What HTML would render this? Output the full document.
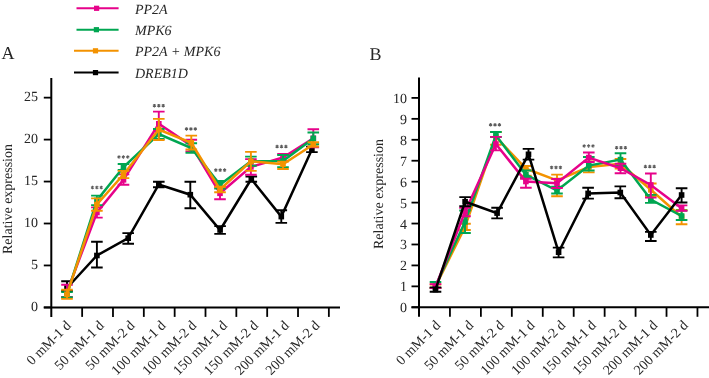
<!DOCTYPE html>
<html><head><meta charset="utf-8"><style>
html,body{margin:0;padding:0;background:#fff;width:709px;height:378px;overflow:hidden}
svg{display:block;will-change:transform}
text{font-family:"Liberation Serif", serif;fill:#262626;text-rendering:geometricPrecision}
</style></head><body>
<svg width="709" height="378" viewBox="0 0 709 378">
<text x="1.5" y="58.5" font-size="18">A</text>
<text x="369.5" y="59.5" font-size="18">B</text>
<text transform="translate(12 199) rotate(-90)" text-anchor="middle" font-size="14">Relative expression</text>
<text transform="translate(382.5 194) rotate(-90)" text-anchor="middle" font-size="14">Relative expression</text>
<path d="M76.5 8.3H118.6" stroke="#E6028A" stroke-width="2"/>
<rect x="94" y="5.7" width="5.2" height="5.2" fill="#E6028A"/>
<text x="135" y="13.6" font-size="14" font-style="italic">PP2A</text>
<path d="M76.5 29.7H118.6" stroke="#00A651" stroke-width="2"/>
<rect x="93.8" y="27.1" width="5.2" height="5.2" fill="#00A651"/>
<text x="135" y="35" font-size="14" font-style="italic">MPK6</text>
<path d="M74 50.8H118.6" stroke="#F39200" stroke-width="2"/>
<rect x="92.9" y="48.2" width="5.2" height="5.2" fill="#F39200"/>
<text x="135" y="56.1" font-size="14" font-style="italic">PP2A + MPK6</text>
<path d="M74 72.6H118.6" stroke="#000000" stroke-width="2"/>
<rect x="92.9" y="70" width="5.2" height="5.2" fill="#000000"/>
<text x="135" y="77.9" font-size="14" font-style="italic">DREB1D</text>
<path d="M51.3 78V316.9M43.8 307.4H340" stroke="#000" stroke-width="2" fill="none"/>
<path d="M43.8 307.4H51.3" stroke="#000" stroke-width="1.8"/>
<text x="38.1" y="310.6" text-anchor="end" font-size="14">0</text>
<path d="M43.8 265.45H51.3" stroke="#000" stroke-width="1.8"/>
<text x="38.1" y="268.65" text-anchor="end" font-size="14">5</text>
<path d="M43.8 223.5H51.3" stroke="#000" stroke-width="1.8"/>
<text x="38.1" y="226.7" text-anchor="end" font-size="14">10</text>
<path d="M43.8 181.55H51.3" stroke="#000" stroke-width="1.8"/>
<text x="38.1" y="184.75" text-anchor="end" font-size="14">15</text>
<path d="M43.8 139.6H51.3" stroke="#000" stroke-width="1.8"/>
<text x="38.1" y="142.8" text-anchor="end" font-size="14">20</text>
<path d="M43.8 97.65H51.3" stroke="#000" stroke-width="1.8"/>
<text x="38.1" y="100.85" text-anchor="end" font-size="14">25</text>
<path d="M82.14 307.4V316.9" stroke="#000" stroke-width="1.8"/>
<path d="M112.98 307.4V316.9" stroke="#000" stroke-width="1.8"/>
<path d="M143.82 307.4V316.9" stroke="#000" stroke-width="1.8"/>
<path d="M174.66 307.4V316.9" stroke="#000" stroke-width="1.8"/>
<path d="M205.5 307.4V316.9" stroke="#000" stroke-width="1.8"/>
<path d="M236.34 307.4V316.9" stroke="#000" stroke-width="1.8"/>
<path d="M267.18 307.4V316.9" stroke="#000" stroke-width="1.8"/>
<path d="M298.02 307.4V316.9" stroke="#000" stroke-width="1.8"/>
<path d="M328.86 307.4V316.9" stroke="#000" stroke-width="1.8"/>
<text transform="translate(71.72 326.2) rotate(-45)" text-anchor="end" font-size="14">0 mM-1 d</text>
<text transform="translate(104.66 326.2) rotate(-45)" text-anchor="end" font-size="14">50 mM-1 d</text>
<text transform="translate(135.5 326.2) rotate(-45)" text-anchor="end" font-size="14">50 mM-2 d</text>
<text transform="translate(166.34 326.2) rotate(-45)" text-anchor="end" font-size="14">100 mM-1 d</text>
<text transform="translate(197.18 326.2) rotate(-45)" text-anchor="end" font-size="14">100 mM-2 d</text>
<text transform="translate(228.02 326.2) rotate(-45)" text-anchor="end" font-size="14">150 mM-1 d</text>
<text transform="translate(258.86 326.2) rotate(-45)" text-anchor="end" font-size="14">150 mM-2 d</text>
<text transform="translate(289.7 326.2) rotate(-45)" text-anchor="end" font-size="14">200 mM-1 d</text>
<text transform="translate(320.54 326.2) rotate(-45)" text-anchor="end" font-size="14">200 mM-2 d</text>
<polyline points="67,288 96.9,255.5 128.2,238.2 158.8,184.5 190.3,194.7 220.1,230 251.3,179 281.3,216.6 311.9,149.5" stroke="#000000" stroke-width="2.5" fill="none"/>
<path d="M67 281.3V291M61.2 281.3H72.8M61.2 291H72.8" stroke="#000000" stroke-width="1.9"/>
<rect x="64.2" y="285.2" width="5.6" height="5.6" fill="#000000"/>
<path d="M96.9 241.7V267.5M91.1 241.7H102.7M91.1 267.5H102.7" stroke="#000000" stroke-width="1.9"/>
<rect x="94.1" y="252.7" width="5.6" height="5.6" fill="#000000"/>
<path d="M128.2 233.1V243.8M122.4 233.1H134M122.4 243.8H134" stroke="#000000" stroke-width="1.9"/>
<rect x="125.4" y="235.4" width="5.6" height="5.6" fill="#000000"/>
<path d="M158.8 181.7V187.2M153 181.7H164.6M153 187.2H164.6" stroke="#000000" stroke-width="1.9"/>
<rect x="156" y="181.7" width="5.6" height="5.6" fill="#000000"/>
<path d="M190.3 181.7V208.2M184.5 181.7H196.1M184.5 208.2H196.1" stroke="#000000" stroke-width="1.9"/>
<rect x="187.5" y="191.9" width="5.6" height="5.6" fill="#000000"/>
<path d="M220.1 226.1V233.9M214.3 226.1H225.9M214.3 233.9H225.9" stroke="#000000" stroke-width="1.9"/>
<rect x="217.3" y="227.2" width="5.6" height="5.6" fill="#000000"/>
<path d="M251.3 176.5V181.7M245.5 176.5H257.1M245.5 181.7H257.1" stroke="#000000" stroke-width="1.9"/>
<rect x="248.5" y="176.2" width="5.6" height="5.6" fill="#000000"/>
<path d="M281.3 210.2V222.9M275.5 210.2H287.1M275.5 222.9H287.1" stroke="#000000" stroke-width="1.9"/>
<rect x="278.5" y="213.8" width="5.6" height="5.6" fill="#000000"/>
<path d="M311.9 146.6V152.1M306.1 146.6H317.7M306.1 152.1H317.7" stroke="#000000" stroke-width="1.9"/>
<rect x="309.1" y="146.7" width="5.6" height="5.6" fill="#000000"/>
<polyline points="67,292 96.9,212.5 123.5,179.8 158.8,123.8 191.3,145.6 220,193.3 250.9,166.9 283,157.5 313.3,138.3" stroke="#E6028A" stroke-width="2.5" fill="none"/>
<path d="M67 284.7V297M61.2 284.7H72.8M61.2 297H72.8" stroke="#E6028A" stroke-width="1.9"/>
<rect x="64.2" y="289.2" width="5.6" height="5.6" fill="#E6028A"/>
<path d="M96.9 207.4V217.6M91.1 207.4H102.7M91.1 217.6H102.7" stroke="#E6028A" stroke-width="1.9"/>
<rect x="94.1" y="209.7" width="5.6" height="5.6" fill="#E6028A"/>
<path d="M123.5 174.4V184.8M117.7 174.4H129.3M117.7 184.8H129.3" stroke="#E6028A" stroke-width="1.9"/>
<rect x="120.7" y="177" width="5.6" height="5.6" fill="#E6028A"/>
<path d="M158.8 111.6V131M153 111.6H164.6M153 131H164.6" stroke="#E6028A" stroke-width="1.9"/>
<rect x="156" y="121" width="5.6" height="5.6" fill="#E6028A"/>
<path d="M191.3 139.8V151.4M185.5 139.8H197.1M185.5 151.4H197.1" stroke="#E6028A" stroke-width="1.9"/>
<rect x="188.5" y="142.8" width="5.6" height="5.6" fill="#E6028A"/>
<path d="M220 187.2V199.3M214.2 187.2H225.8M214.2 199.3H225.8" stroke="#E6028A" stroke-width="1.9"/>
<rect x="217.2" y="190.5" width="5.6" height="5.6" fill="#E6028A"/>
<path d="M250.9 159.1V174.8M245.1 159.1H256.7M245.1 174.8H256.7" stroke="#E6028A" stroke-width="1.9"/>
<rect x="248.1" y="164.1" width="5.6" height="5.6" fill="#E6028A"/>
<path d="M283 153.9V161M277.2 153.9H288.8M277.2 161H288.8" stroke="#E6028A" stroke-width="1.9"/>
<rect x="280.2" y="154.7" width="5.6" height="5.6" fill="#E6028A"/>
<path d="M313.3 129.3V147.3M307.5 129.3H319.1M307.5 147.3H319.1" stroke="#E6028A" stroke-width="1.9"/>
<rect x="310.5" y="135.5" width="5.6" height="5.6" fill="#E6028A"/>
<polyline points="67,294.6 96.9,200.35 123.5,167 158.8,134 191.3,148 220,184.8 250.9,161.2 283,161.1 313.3,138.4" stroke="#00A651" stroke-width="2.5" fill="none"/>
<path d="M67 292.1V297.2M61.2 292.1H72.8M61.2 297.2H72.8" stroke="#00A651" stroke-width="1.9"/>
<rect x="64.2" y="291.8" width="5.6" height="5.6" fill="#00A651"/>
<path d="M96.9 195.6V205.1M91.1 195.6H102.7M91.1 205.1H102.7" stroke="#00A651" stroke-width="1.9"/>
<rect x="94.1" y="197.55" width="5.6" height="5.6" fill="#00A651"/>
<path d="M123.5 164V170M117.7 164H129.3M117.7 170H129.3" stroke="#00A651" stroke-width="1.9"/>
<rect x="120.7" y="164.2" width="5.6" height="5.6" fill="#00A651"/>
<path d="M158.8 129V139M153 129H164.6M153 139H164.6" stroke="#00A651" stroke-width="1.9"/>
<rect x="156" y="131.2" width="5.6" height="5.6" fill="#00A651"/>
<path d="M191.3 143.3V152.8M185.5 143.3H197.1M185.5 152.8H197.1" stroke="#00A651" stroke-width="1.9"/>
<rect x="188.5" y="145.2" width="5.6" height="5.6" fill="#00A651"/>
<path d="M220 181V188.6M214.2 181H225.8M214.2 188.6H225.8" stroke="#00A651" stroke-width="1.9"/>
<rect x="217.2" y="182" width="5.6" height="5.6" fill="#00A651"/>
<path d="M250.9 156.6V165.8M245.1 156.6H256.7M245.1 165.8H256.7" stroke="#00A651" stroke-width="1.9"/>
<rect x="248.1" y="158.4" width="5.6" height="5.6" fill="#00A651"/>
<path d="M283 155V167.1M277.2 155H288.8M277.2 167.1H288.8" stroke="#00A651" stroke-width="1.9"/>
<rect x="280.2" y="158.3" width="5.6" height="5.6" fill="#00A651"/>
<path d="M313.3 132.5V144.3M307.5 132.5H319.1M307.5 144.3H319.1" stroke="#00A651" stroke-width="1.9"/>
<rect x="310.5" y="135.6" width="5.6" height="5.6" fill="#00A651"/>
<polyline points="67,294.4 96.9,204.5 123.5,174.5 158.8,129.6 191.3,142.8 220,189.5 250.9,161.3 283,164.3 313.3,144.5" stroke="#F39200" stroke-width="2.5" fill="none"/>
<path d="M67 289.8V298.9M61.2 289.8H72.8M61.2 298.9H72.8" stroke="#F39200" stroke-width="1.9"/>
<rect x="64.2" y="291.6" width="5.6" height="5.6" fill="#F39200"/>
<path d="M96.9 198.4V210.7M91.1 198.4H102.7M91.1 210.7H102.7" stroke="#F39200" stroke-width="1.9"/>
<rect x="94.1" y="201.7" width="5.6" height="5.6" fill="#F39200"/>
<path d="M123.5 170.9V178.1M117.7 170.9H129.3M117.7 178.1H129.3" stroke="#F39200" stroke-width="1.9"/>
<rect x="120.7" y="171.7" width="5.6" height="5.6" fill="#F39200"/>
<path d="M158.8 118.9V140M153 118.9H164.6M153 140H164.6" stroke="#F39200" stroke-width="1.9"/>
<rect x="156" y="126.8" width="5.6" height="5.6" fill="#F39200"/>
<path d="M191.3 135.6V149.5M185.5 135.6H197.1M185.5 149.5H197.1" stroke="#F39200" stroke-width="1.9"/>
<rect x="188.5" y="140" width="5.6" height="5.6" fill="#F39200"/>
<path d="M220 186.7V192.3M214.2 186.7H225.8M214.2 192.3H225.8" stroke="#F39200" stroke-width="1.9"/>
<rect x="217.2" y="186.7" width="5.6" height="5.6" fill="#F39200"/>
<path d="M250.9 151.9V170.9M245.1 151.9H256.7M245.1 170.9H256.7" stroke="#F39200" stroke-width="1.9"/>
<rect x="248.1" y="158.5" width="5.6" height="5.6" fill="#F39200"/>
<path d="M283 161.6V169M277.2 161.6H288.8M277.2 169H288.8" stroke="#F39200" stroke-width="1.9"/>
<rect x="280.2" y="161.5" width="5.6" height="5.6" fill="#F39200"/>
<path d="M313.3 142.3V146.5M307.5 142.3H319.1M307.5 146.5H319.1" stroke="#F39200" stroke-width="1.9"/>
<rect x="310.5" y="141.7" width="5.6" height="5.6" fill="#F39200"/>
<path d="M92.5 185.75V189.25M90.98 186.62L94.02 188.38M90.98 188.38L94.02 186.62" stroke="#5c5c5c" stroke-width="1.1"/>
<path d="M96.9 185.75V189.25M95.38 186.62L98.42 188.38M95.38 188.38L98.42 186.62" stroke="#5c5c5c" stroke-width="1.1"/>
<path d="M101.3 185.75V189.25M99.78 186.62L102.82 188.38M99.78 188.38L102.82 186.62" stroke="#5c5c5c" stroke-width="1.1"/>
<path d="M119 155.25V158.75M117.48 156.12L120.52 157.88M117.48 157.88L120.52 156.12" stroke="#5c5c5c" stroke-width="1.1"/>
<path d="M123.4 155.25V158.75M121.88 156.12L124.92 157.88M121.88 157.88L124.92 156.12" stroke="#5c5c5c" stroke-width="1.1"/>
<path d="M127.8 155.25V158.75M126.28 156.12L129.32 157.88M126.28 157.88L129.32 156.12" stroke="#5c5c5c" stroke-width="1.1"/>
<path d="M154.4 103.95V107.45M152.88 104.83L155.92 106.58M152.88 106.58L155.92 104.83" stroke="#5c5c5c" stroke-width="1.1"/>
<path d="M158.8 103.95V107.45M157.28 104.83L160.32 106.58M157.28 106.58L160.32 104.83" stroke="#5c5c5c" stroke-width="1.1"/>
<path d="M163.2 103.95V107.45M161.68 104.83L164.72 106.58M161.68 106.58L164.72 104.83" stroke="#5c5c5c" stroke-width="1.1"/>
<path d="M186.5 127.15V130.65M184.98 128.03L188.02 129.78M184.98 129.78L188.02 128.03" stroke="#5c5c5c" stroke-width="1.1"/>
<path d="M190.9 127.15V130.65M189.38 128.03L192.42 129.78M189.38 129.78L192.42 128.03" stroke="#5c5c5c" stroke-width="1.1"/>
<path d="M195.3 127.15V130.65M193.78 128.03L196.82 129.78M193.78 129.78L196.82 128.03" stroke="#5c5c5c" stroke-width="1.1"/>
<path d="M215.8 168.35V171.85M214.28 169.22L217.32 170.97M214.28 170.97L217.32 169.22" stroke="#5c5c5c" stroke-width="1.1"/>
<path d="M220.2 168.35V171.85M218.68 169.22L221.72 170.97M218.68 170.97L221.72 169.22" stroke="#5c5c5c" stroke-width="1.1"/>
<path d="M224.6 168.35V171.85M223.08 169.22L226.12 170.97M223.08 170.97L226.12 169.22" stroke="#5c5c5c" stroke-width="1.1"/>
<path d="M277.1 144.85V148.35M275.58 145.72L278.62 147.47M275.58 147.47L278.62 145.72" stroke="#5c5c5c" stroke-width="1.1"/>
<path d="M281.5 144.85V148.35M279.98 145.72L283.02 147.47M279.98 147.47L283.02 145.72" stroke="#5c5c5c" stroke-width="1.1"/>
<path d="M285.9 144.85V148.35M284.38 145.72L287.42 147.47M284.38 147.47L287.42 145.72" stroke="#5c5c5c" stroke-width="1.1"/>
<path d="M419 77.5V316.8M411.5 307.3H709" stroke="#000" stroke-width="2" fill="none"/>
<path d="M411.5 307.3H419" stroke="#000" stroke-width="1.8"/>
<text x="407" y="312.3" text-anchor="end" font-size="14">0</text>
<path d="M411.5 286.36H419" stroke="#000" stroke-width="1.8"/>
<text x="407" y="291.36" text-anchor="end" font-size="14">1</text>
<path d="M411.5 265.42H419" stroke="#000" stroke-width="1.8"/>
<text x="407" y="270.42" text-anchor="end" font-size="14">2</text>
<path d="M411.5 244.48H419" stroke="#000" stroke-width="1.8"/>
<text x="407" y="249.48" text-anchor="end" font-size="14">3</text>
<path d="M411.5 223.54H419" stroke="#000" stroke-width="1.8"/>
<text x="407" y="228.54" text-anchor="end" font-size="14">4</text>
<path d="M411.5 202.6H419" stroke="#000" stroke-width="1.8"/>
<text x="407" y="207.6" text-anchor="end" font-size="14">5</text>
<path d="M411.5 181.66H419" stroke="#000" stroke-width="1.8"/>
<text x="407" y="186.66" text-anchor="end" font-size="14">6</text>
<path d="M411.5 160.72H419" stroke="#000" stroke-width="1.8"/>
<text x="407" y="165.72" text-anchor="end" font-size="14">7</text>
<path d="M411.5 139.78H419" stroke="#000" stroke-width="1.8"/>
<text x="407" y="144.78" text-anchor="end" font-size="14">8</text>
<path d="M411.5 118.84H419" stroke="#000" stroke-width="1.8"/>
<text x="407" y="123.84" text-anchor="end" font-size="14">9</text>
<path d="M411.5 97.9H419" stroke="#000" stroke-width="1.8"/>
<text x="407" y="102.9" text-anchor="end" font-size="14">10</text>
<path d="M449.94 307.3V316.8" stroke="#000" stroke-width="1.8"/>
<path d="M480.88 307.3V316.8" stroke="#000" stroke-width="1.8"/>
<path d="M511.82 307.3V316.8" stroke="#000" stroke-width="1.8"/>
<path d="M542.76 307.3V316.8" stroke="#000" stroke-width="1.8"/>
<path d="M573.7 307.3V316.8" stroke="#000" stroke-width="1.8"/>
<path d="M604.64 307.3V316.8" stroke="#000" stroke-width="1.8"/>
<path d="M635.58 307.3V316.8" stroke="#000" stroke-width="1.8"/>
<path d="M666.52 307.3V316.8" stroke="#000" stroke-width="1.8"/>
<path d="M697.46 307.3V316.8" stroke="#000" stroke-width="1.8"/>
<text transform="translate(441.17 326.1) rotate(-45)" text-anchor="end" font-size="14">0 mM-1 d</text>
<text transform="translate(474.21 326.1) rotate(-45)" text-anchor="end" font-size="14">50 mM-1 d</text>
<text transform="translate(504.86 326.1) rotate(-45)" text-anchor="end" font-size="14">50 mM-2 d</text>
<text transform="translate(535.51 326.1) rotate(-45)" text-anchor="end" font-size="14">100 mM-1 d</text>
<text transform="translate(566.16 326.1) rotate(-45)" text-anchor="end" font-size="14">100 mM-2 d</text>
<text transform="translate(596.81 326.1) rotate(-45)" text-anchor="end" font-size="14">150 mM-1 d</text>
<text transform="translate(627.46 326.1) rotate(-45)" text-anchor="end" font-size="14">150 mM-2 d</text>
<text transform="translate(658.11 326.1) rotate(-45)" text-anchor="end" font-size="14">200 mM-1 d</text>
<text transform="translate(688.76 326.1) rotate(-45)" text-anchor="end" font-size="14">200 mM-2 d</text>
<polyline points="435.5,286.5 465,226.9 495.9,137 525.9,168.7 557,180.5 588.8,167 620.5,163.8 650.8,189.8 681.6,217" stroke="#F39200" stroke-width="2.5" fill="none"/>
<path d="M435.5 284.5V288M429.7 284.5H441.3M429.7 288H441.3" stroke="#F39200" stroke-width="1.9"/>
<rect x="432.7" y="283.7" width="5.6" height="5.6" fill="#F39200"/>
<path d="M465 223.8V230M459.2 223.8H470.8M459.2 230H470.8" stroke="#F39200" stroke-width="1.9"/>
<rect x="462.2" y="224.1" width="5.6" height="5.6" fill="#F39200"/>
<path d="M495.9 132V144.7M490.1 132H501.7M490.1 144.7H501.7" stroke="#F39200" stroke-width="1.9"/>
<rect x="493.1" y="134.2" width="5.6" height="5.6" fill="#F39200"/>
<path d="M525.9 166V175.7M520.1 166H531.7M520.1 175.7H531.7" stroke="#F39200" stroke-width="1.9"/>
<rect x="523.1" y="165.9" width="5.6" height="5.6" fill="#F39200"/>
<path d="M557 174.6V196.2M551.2 174.6H562.8M551.2 196.2H562.8" stroke="#F39200" stroke-width="1.9"/>
<rect x="554.2" y="177.7" width="5.6" height="5.6" fill="#F39200"/>
<path d="M588.8 161.5V172.4M583 161.5H594.6M583 172.4H594.6" stroke="#F39200" stroke-width="1.9"/>
<rect x="586" y="164.2" width="5.6" height="5.6" fill="#F39200"/>
<path d="M620.5 159V168.6M614.7 159H626.3M614.7 168.6H626.3" stroke="#F39200" stroke-width="1.9"/>
<rect x="617.7" y="161" width="5.6" height="5.6" fill="#F39200"/>
<path d="M650.8 183.5V196M645 183.5H656.6M645 196H656.6" stroke="#F39200" stroke-width="1.9"/>
<rect x="648" y="187" width="5.6" height="5.6" fill="#F39200"/>
<path d="M681.6 210V224.3M675.8 210H687.4M675.8 224.3H687.4" stroke="#F39200" stroke-width="1.9"/>
<rect x="678.8" y="214.2" width="5.6" height="5.6" fill="#F39200"/>
<polyline points="435.5,286 465,221.9 495.9,135.3 525.9,174.7 557,190.5 588.8,165.6 620.5,159.6 650.8,199.5 681.6,216" stroke="#00A651" stroke-width="2.5" fill="none"/>
<path d="M435.5 282V288M429.7 282H441.3M429.7 288H441.3" stroke="#00A651" stroke-width="1.9"/>
<rect x="432.7" y="283.2" width="5.6" height="5.6" fill="#00A651"/>
<path d="M465 210.5V233M459.2 210.5H470.8M459.2 233H470.8" stroke="#00A651" stroke-width="1.9"/>
<rect x="462.2" y="219.1" width="5.6" height="5.6" fill="#00A651"/>
<path d="M495.9 132V137M490.1 132H501.7M490.1 137H501.7" stroke="#00A651" stroke-width="1.9"/>
<rect x="493.1" y="132.5" width="5.6" height="5.6" fill="#00A651"/>
<path d="M525.9 170.5V178M520.1 170.5H531.7M520.1 178H531.7" stroke="#00A651" stroke-width="1.9"/>
<rect x="523.1" y="171.9" width="5.6" height="5.6" fill="#00A651"/>
<path d="M557 186.8V193.5M551.2 186.8H562.8M551.2 193.5H562.8" stroke="#00A651" stroke-width="1.9"/>
<rect x="554.2" y="187.7" width="5.6" height="5.6" fill="#00A651"/>
<path d="M588.8 157V170.5M583 157H594.6M583 170.5H594.6" stroke="#00A651" stroke-width="1.9"/>
<rect x="586" y="162.8" width="5.6" height="5.6" fill="#00A651"/>
<path d="M620.5 153.3V166M614.7 153.3H626.3M614.7 166H626.3" stroke="#00A651" stroke-width="1.9"/>
<rect x="617.7" y="156.8" width="5.6" height="5.6" fill="#00A651"/>
<path d="M650.8 194.9V202.9M645 194.9H656.6M645 202.9H656.6" stroke="#00A651" stroke-width="1.9"/>
<rect x="648" y="196.7" width="5.6" height="5.6" fill="#00A651"/>
<path d="M681.6 210.5V220M675.8 210.5H687.4M675.8 220H687.4" stroke="#00A651" stroke-width="1.9"/>
<rect x="678.8" y="213.2" width="5.6" height="5.6" fill="#00A651"/>
<polyline points="435.5,287 465,212 495.9,144 525.9,181.5 557,183.3 588.8,157.6 620.5,168.2 650.8,185 681.6,208.3" stroke="#E6028A" stroke-width="2.5" fill="none"/>
<path d="M435.5 284.1V288M429.7 284.1H441.3M429.7 288H441.3" stroke="#E6028A" stroke-width="1.9"/>
<rect x="432.7" y="284.2" width="5.6" height="5.6" fill="#E6028A"/>
<path d="M465 207.9V216.2M459.2 207.9H470.8M459.2 216.2H470.8" stroke="#E6028A" stroke-width="1.9"/>
<rect x="462.2" y="209.2" width="5.6" height="5.6" fill="#E6028A"/>
<path d="M495.9 136.9V150.4M490.1 136.9H501.7M490.1 150.4H501.7" stroke="#E6028A" stroke-width="1.9"/>
<rect x="493.1" y="141.2" width="5.6" height="5.6" fill="#E6028A"/>
<path d="M525.9 178.7V187.8M520.1 178.7H531.7M520.1 187.8H531.7" stroke="#E6028A" stroke-width="1.9"/>
<rect x="523.1" y="178.7" width="5.6" height="5.6" fill="#E6028A"/>
<path d="M557 179V188M551.2 179H562.8M551.2 188H562.8" stroke="#E6028A" stroke-width="1.9"/>
<rect x="554.2" y="180.5" width="5.6" height="5.6" fill="#E6028A"/>
<path d="M588.8 152.5V162M583 152.5H594.6M583 162H594.6" stroke="#E6028A" stroke-width="1.9"/>
<rect x="586" y="154.8" width="5.6" height="5.6" fill="#E6028A"/>
<path d="M620.5 163.8V173.3M614.7 163.8H626.3M614.7 173.3H626.3" stroke="#E6028A" stroke-width="1.9"/>
<rect x="617.7" y="165.4" width="5.6" height="5.6" fill="#E6028A"/>
<path d="M650.8 173.5V197.6M645 173.5H656.6M645 197.6H656.6" stroke="#E6028A" stroke-width="1.9"/>
<rect x="648" y="182.2" width="5.6" height="5.6" fill="#E6028A"/>
<path d="M681.6 205.4V210.9M675.8 205.4H687.4M675.8 210.9H687.4" stroke="#E6028A" stroke-width="1.9"/>
<rect x="678.8" y="205.5" width="5.6" height="5.6" fill="#E6028A"/>
<polyline points="435.5,289.6 465.1,201.7 497.1,213.1 528.5,154.3 558.6,252.2 588.1,193.4 620.3,192.5 650.8,235 681.6,195" stroke="#000000" stroke-width="2.5" fill="none"/>
<path d="M435.5 287.4V291.8M429.7 287.4H441.3M429.7 291.8H441.3" stroke="#000000" stroke-width="1.9"/>
<rect x="432.7" y="286.8" width="5.6" height="5.6" fill="#000000"/>
<path d="M465.1 197.1V206.3M459.3 197.1H470.9M459.3 206.3H470.9" stroke="#000000" stroke-width="1.9"/>
<rect x="462.3" y="198.9" width="5.6" height="5.6" fill="#000000"/>
<path d="M497.1 207.8V218.4M491.3 207.8H502.9M491.3 218.4H502.9" stroke="#000000" stroke-width="1.9"/>
<rect x="494.3" y="210.3" width="5.6" height="5.6" fill="#000000"/>
<path d="M528.5 148.9V159.6M522.7 148.9H534.3M522.7 159.6H534.3" stroke="#000000" stroke-width="1.9"/>
<rect x="525.7" y="151.5" width="5.6" height="5.6" fill="#000000"/>
<path d="M558.6 247.6V257.4M552.8 247.6H564.4M552.8 257.4H564.4" stroke="#000000" stroke-width="1.9"/>
<rect x="555.8" y="249.4" width="5.6" height="5.6" fill="#000000"/>
<path d="M588.1 187.8V198.6M582.3 187.8H593.9M582.3 198.6H593.9" stroke="#000000" stroke-width="1.9"/>
<rect x="585.3" y="190.6" width="5.6" height="5.6" fill="#000000"/>
<path d="M620.3 186.4V198.2M614.5 186.4H626.1M614.5 198.2H626.1" stroke="#000000" stroke-width="1.9"/>
<rect x="617.5" y="189.7" width="5.6" height="5.6" fill="#000000"/>
<path d="M650.8 231.9V241M645 231.9H656.6M645 241H656.6" stroke="#000000" stroke-width="1.9"/>
<rect x="648" y="232.2" width="5.6" height="5.6" fill="#000000"/>
<path d="M681.6 188.2V202.5M675.8 188.2H687.4M675.8 202.5H687.4" stroke="#000000" stroke-width="1.9"/>
<rect x="678.8" y="192.2" width="5.6" height="5.6" fill="#000000"/>
<path d="M490.6 123.05V126.55M489.08 123.92L492.12 125.67M489.08 125.67L492.12 123.92" stroke="#5c5c5c" stroke-width="1.1"/>
<path d="M495 123.05V126.55M493.48 123.92L496.52 125.67M493.48 125.67L496.52 123.92" stroke="#5c5c5c" stroke-width="1.1"/>
<path d="M499.4 123.05V126.55M497.88 123.92L500.92 125.67M497.88 125.67L500.92 123.92" stroke="#5c5c5c" stroke-width="1.1"/>
<path d="M551.6 165.65V169.15M550.08 166.53L553.12 168.28M550.08 168.28L553.12 166.53" stroke="#5c5c5c" stroke-width="1.1"/>
<path d="M556 165.65V169.15M554.48 166.53L557.52 168.28M554.48 168.28L557.52 166.53" stroke="#5c5c5c" stroke-width="1.1"/>
<path d="M560.4 165.65V169.15M558.88 166.53L561.92 168.28M558.88 168.28L561.92 166.53" stroke="#5c5c5c" stroke-width="1.1"/>
<path d="M584.2 144.25V147.75M582.68 145.12L585.72 146.88M582.68 146.88L585.72 145.12" stroke="#5c5c5c" stroke-width="1.1"/>
<path d="M588.6 144.25V147.75M587.08 145.12L590.12 146.88M587.08 146.88L590.12 145.12" stroke="#5c5c5c" stroke-width="1.1"/>
<path d="M593 144.25V147.75M591.48 145.12L594.52 146.88M591.48 146.88L594.52 145.12" stroke="#5c5c5c" stroke-width="1.1"/>
<path d="M616.6 145.95V149.45M615.08 146.82L618.12 148.57M615.08 148.57L618.12 146.82" stroke="#5c5c5c" stroke-width="1.1"/>
<path d="M621 145.95V149.45M619.48 146.82L622.52 148.57M619.48 148.57L622.52 146.82" stroke="#5c5c5c" stroke-width="1.1"/>
<path d="M625.4 145.95V149.45M623.88 146.82L626.92 148.57M623.88 148.57L626.92 146.82" stroke="#5c5c5c" stroke-width="1.1"/>
<path d="M645.4 164.85V168.35M643.88 165.72L646.92 167.47M643.88 167.47L646.92 165.72" stroke="#5c5c5c" stroke-width="1.1"/>
<path d="M649.8 164.85V168.35M648.28 165.72L651.32 167.47M648.28 167.47L651.32 165.72" stroke="#5c5c5c" stroke-width="1.1"/>
<path d="M654.2 164.85V168.35M652.68 165.72L655.72 167.47M652.68 167.47L655.72 165.72" stroke="#5c5c5c" stroke-width="1.1"/>
</svg></body></html>
